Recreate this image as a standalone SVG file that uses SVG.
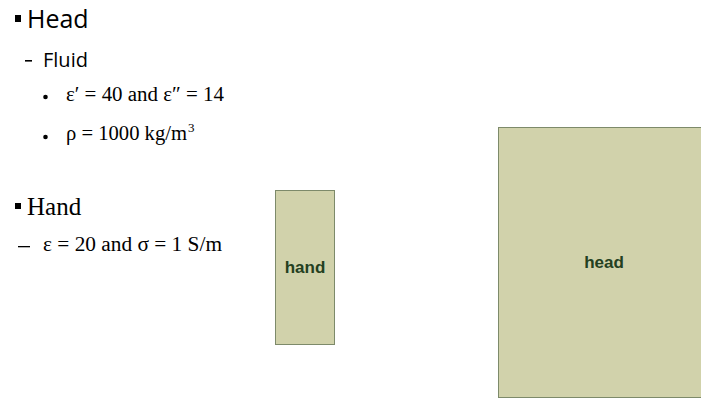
<svg xmlns="http://www.w3.org/2000/svg" width="701" height="398" viewBox="0 0 701 398">
<style>
.sans{font-family:"Open Sans","Liberation Sans",sans-serif;fill:#000}
.serif{font-family:"Liberation Serif",serif;fill:#000}
.box{fill:#d1d2ab;stroke:#7d8a6a;stroke-width:1}
.lbl{font-family:"Liberation Sans",Arial,sans-serif;font-weight:bold;font-size:17px;fill:#24401f;text-anchor:middle}
</style>
<rect width="701" height="398" fill="#fff"/>
<g id="text">
<rect x="15" y="15" width="6" height="7" fill="#000"/>
<text class="sans" x="27" y="28" font-size="25">Head</text>
<rect x="25" y="60" width="7" height="1.6" fill="#000"/>
<text class="sans" x="43" y="67" font-size="20">Fluid</text>
<circle cx="45.5" cy="97" r="2.3" fill="#000"/>
<text class="serif" x="66" y="101" font-size="20" textLength="158" lengthAdjust="spacingAndGlyphs">ε′ = 40 and ε″ = 14</text>
<circle cx="45.5" cy="137" r="2.3" fill="#000"/>
<text class="serif" x="66" y="140" font-size="20" textLength="121" lengthAdjust="spacingAndGlyphs">ρ = 1000 kg/m</text>
<text class="serif" x="188" y="132" font-size="13">3</text>
<rect x="15" y="203" width="6" height="6" fill="#000"/>
<text class="serif" x="27" y="215" font-size="25">Hand</text>
<rect x="18" y="246" width="12" height="1.3" fill="#000"/>
<text class="serif" x="43" y="251" font-size="20" textLength="179" lengthAdjust="spacingAndGlyphs">ε = 20 and σ = 1 S/m</text>
</g>
<g id="hand">
<rect class="box" x="275.5" y="190.5" width="59" height="154"/>
<text class="lbl" x="305" y="273">hand</text>
</g>
<g id="head">
<rect class="box" x="498.5" y="127.5" width="204" height="270"/>
<text class="lbl" x="604" y="268">head</text>
</g>
<g id="connectors"/>
</svg>
